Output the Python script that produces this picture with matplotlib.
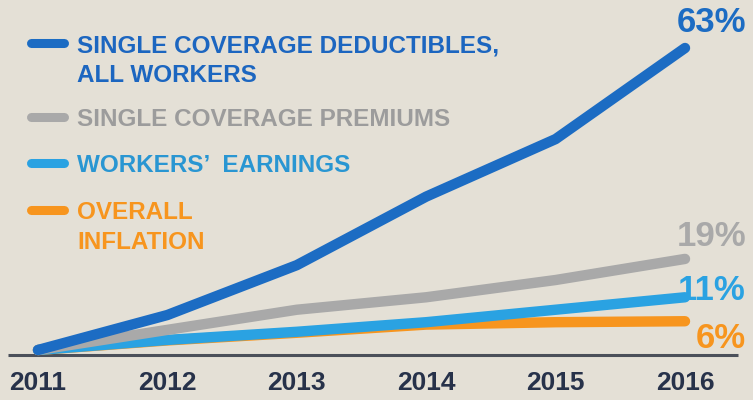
import matplotlib
matplotlib.use("Agg")
import matplotlib.pyplot as plt
from matplotlib import font_manager

years = [2011, 2012, 2013, 2014, 2015, 2016]
deductibles = [0, 7.3, 17.7, 32, 44, 63]
premiums = [0, 4.2, 8.4, 11, 14.6, 19]
earnings = [0, 2.1, 3.8, 5.8, 8.4, 11]
inflation = [0, 2.0, 3.6, 5.3, 5.8, 6]

names = [["SINGLE COVERAGE DEDUCTIBLES,", "ALL WORKERS"], ["SINGLE COVERAGE PREMIUMS"],
         ["WORKERS\u2019  EARNINGS"], ["OVERALL", "INFLATION"]]
colors = ["#1c6cc3", "#a9a9a9", "#2aa2e2", "#f7951e"]
text_colors = ["#1c66c0", "#9c9c9c", "#2996d2", "#f7951e"]
series = [deductibles, premiums, earnings, inflation]

bg = "#e4e0d6"
fams = [f for f in ["Liberation Sans Narrow", "Liberation Sans", "DejaVu Sans"]
        if any(f == e.name for e in font_manager.fontManager.ttflist)]
plt.rcParams["font.family"] = fams

W, H = 753, 400
fig = plt.figure(figsize=(W / 100, H / 100), dpi=100, facecolor=bg)
ax = fig.add_axes([0, 0, 1, 1])
ax.set_facecolor(bg)
ax.axis("off")

# pixel mapping: 2011 -> x=38, 2016 -> x=685 ; 0% -> y=350, 63% -> y=48
xs = (685 - 38) / 5
ys = (350 - 48) / 63
ax.set_xlim(2011 - 38 / xs, 2011 + (W - 38) / xs)
ax.set_ylim(-(H - 350) / ys, 350 / ys)

def px(x, y):
    return x / W, 1 - y / H

# baseline
ax.plot([2011 - 30 / xs, 2011 + 700 / xs], [-5 / ys] * 2, color="#4b505a", lw=2.2,
        solid_capstyle="butt")

for vals, c in reversed(list(zip(series, colors))):
    ax.plot(years, vals, color=c, lw=7.5, solid_capstyle="round", solid_joinstyle="round")

for yr in years:
    ax.text(yr, -33 / ys, str(yr), ha="center", va="center", fontsize=19,
            fontweight="bold", color="#27324a")

# end labels
label_y = [22, 237, 290, 338]
for vals, c, y in zip(series, colors, label_y):
    fig.text(*px(746, y), f"{int(round(vals[-1]))}%", ha="right", va="center",
             fontsize=25, fontweight="bold", color=c)

# legend
legend_y = [43, 117, 163, 210]
for lines, c, tc, y in zip(names, colors, text_colors, legend_y):
    fig.add_artist(plt.Line2D([31 / W, 64 / W], [1 - y / H] * 2, color=c, lw=6.5,
                              solid_capstyle="round"))
    for i, line in enumerate(lines):
        fig.text(*px(77, y + 30 * i), line, ha="left", va="center_baseline",
                 fontsize=17.5, fontweight="bold", color=tc)

fig.savefig("out.png", dpi=100, facecolor=bg)
